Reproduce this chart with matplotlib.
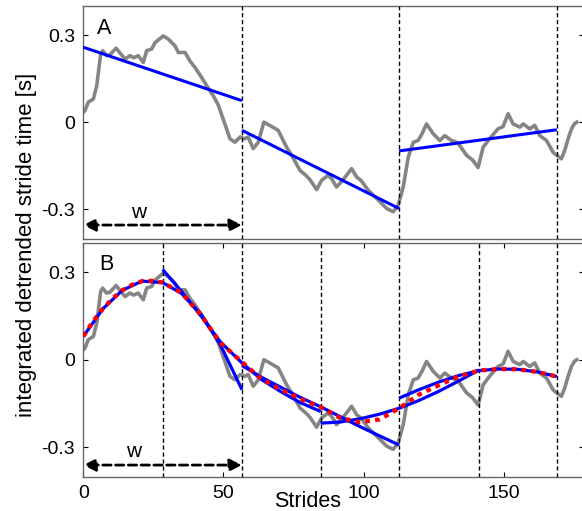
import numpy as np
import matplotlib
matplotlib.use("Agg")
import matplotlib.pyplot as plt

plt.rcParams['font.family'] = ['Liberation Sans', 'DejaVu Sans']

# integrated detrended stride time profile
stride_x = [0, 0.6, 1.8, 3.6, 4.8, 6.2, 6.9, 8.3, 9.5, 11.7, 13.1, 14.9, 16.6, 18.0,
            19.6, 21.4, 22.6, 24.4, 25.6, 28.5, 30.3, 32.7, 33.9, 36.3, 38.0, 39.8,
            42.2, 44.0, 46.3, 48.1, 50.5, 52.3, 54.1, 55.9, 57.6, 58.8, 60.6, 62.4,
            64.4, 66.5, 69.5, 72.5, 74.3, 77.3, 79.6, 81.0, 83.2, 85.0, 87.3, 88.6,
            90.3, 92.5, 95.7, 97.5, 99.0, 101.6, 105.2, 108.2, 110.5, 112.3, 114.1,
            115.9, 117.7, 119.4, 120.8, 122.4, 124.8, 127.2, 128.9, 131.3, 133.5,
            136.7, 138.8, 140.8, 142.6, 144.9, 147.9, 149.7, 151.5, 153.3, 155.7,
            156.9, 159.2, 161.0, 162.8, 165.2, 167.5, 168.8, 170.5, 171.7, 172.9,
            174.1, 175.2, 176.0]
stride_y = [0.034, 0.04, 0.069, 0.08, 0.126, 0.234, 0.246, 0.229, 0.232, 0.255, 0.238,
            0.217, 0.229, 0.222, 0.229, 0.206, 0.246, 0.252, 0.274, 0.297, 0.286,
            0.263, 0.24, 0.24, 0.211, 0.189, 0.154, 0.126, 0.092, 0.06, -0.006,
            -0.057, -0.069, -0.051, -0.057, -0.051, -0.091, -0.069, 0.0, -0.011,
            -0.028, -0.086, -0.114, -0.166, -0.185, -0.2, -0.232, -0.2, -0.183,
            -0.195, -0.223, -0.2, -0.16, -0.189, -0.2, -0.234, -0.268, -0.297,
            -0.308, -0.286, -0.223, -0.12, -0.069, -0.063, -0.04, -0.006, -0.04,
            -0.063, -0.046, -0.063, -0.07, -0.114, -0.13, -0.156, -0.086, -0.057,
            -0.023, -0.015, 0.029, -0.006, -0.017, -0.006, -0.023, -0.011, -0.046,
            -0.063, -0.103, -0.114, -0.126, -0.097, -0.057, -0.023, -0.005, 0.0]

# panel A: linear fits in non-overlapping windows
lin_x0 = [0, 56.6, 112.6]
lin_x1 = [56.6, 112.6, 168.9]
lin_y0 = [0.258, -0.028, -0.099]
lin_y1 = [0.074, -0.297, -0.026]
bounds_a = [56.6, 112.6, 168.9]

# panel B: quadratic fits in half-overlapping windows
fit_x = [
    [0, 7, 14, 21, 28.3, 35, 42, 49, 56.6],
    [28.3, 35, 42, 49, 56.6, 63.5, 70.5, 77.5, 84.7],
    [56.6, 63.5, 70.5, 77.5, 84.7, 91.7, 98.7, 105.7, 112.6],
    [84.7, 91.7, 98.7, 105.7, 112.6, 119.7, 126.7, 133.7, 141.2],
    [112.6, 119.7, 126.7, 133.7, 141.2, 148, 155, 162, 168.9],
]
fit_y = [
    [0.08, 0.175, 0.239, 0.27, 0.265, 0.228, 0.156, 0.049, -0.103],
    [0.31, 0.235, 0.15, 0.06, -0.011, -0.068, -0.11, -0.148, -0.178],
    [-0.02, -0.06, -0.095, -0.13, -0.162, -0.196, -0.23, -0.262, -0.293],
    [-0.218, -0.214, -0.203, -0.187, -0.167, -0.14, -0.109, -0.074, -0.035],
    [-0.132, -0.103, -0.077, -0.055, -0.037, -0.032, -0.033, -0.042, -0.058],
]
# blended trend
trend_x = [0, 3.5, 7, 10.5, 14, 17.5, 21, 24.5, 28.3, 35, 42, 49, 56.6, 63.5, 70.5,
           77.5, 84.7, 91.7, 98.7, 105.7, 112.6, 119.7, 126.7, 133.7, 141.2, 148,
           155, 162, 168.9]
trend_y = [0.08, 0.132, 0.175, 0.211, 0.239, 0.258, 0.27, 0.271, 0.265, 0.23, 0.153,
           0.057, -0.008, -0.066, -0.103, -0.135, -0.163, -0.2, -0.215, -0.205,
           -0.167, -0.12, -0.088, -0.058, -0.037, -0.032, -0.033, -0.042, -0.058]
bounds_b = [28.3, 56.6, 84.7, 112.6, 141.2, 168.9]

w_len = 56.6

fig = plt.figure(figsize=(5.82, 5.11), dpi=100)
ax_a = fig.add_axes([0.1431, 0.5323, 0.8605, 0.456])
ax_b = fig.add_axes([0.1431, 0.0671, 0.8605, 0.4568])

gray = '#858585'
for ax in (ax_a, ax_b):
    ax.plot(stride_x, stride_y, color=gray, lw=2.6, zorder=2)
    ax.set_xlim(0, 178.6)
    ax.set_ylim(-0.402, 0.4)
    ax.set_yticks([-0.3, 0, 0.3])
    ax.set_yticklabels(['-0.3', '0', '0.3'])
    ax.tick_params(direction='in', length=3.5, width=0.8, labelsize=14,
                   top=True, right=True, pad=6, colors='k')
    for sp in ax.spines.values():
        sp.set_color('#666666')
        sp.set_linewidth(1.0)

# panel A
for xb in bounds_a:
    ax_a.axvline(xb, color='k', lw=1.0, ls=(0, (3, 2)), zorder=3)
for i in range(len(lin_x0)):
    ax_a.plot([lin_x0[i], lin_x1[i]], [lin_y0[i], lin_y1[i]], color='#0000ff',
              lw=2.2, zorder=4, solid_capstyle='butt')
ax_a.set_xticks([])
ax_a.text(7.6, 0.323, 'A', fontsize=15.5, ha='center', va='center')
ax_a.annotate('', xy=(0, -0.354), xytext=(w_len, -0.354),
              arrowprops=dict(arrowstyle='<|-|>', color='k', lw=2.0, ls=(0, (3, 1.6)),
                              shrinkA=0, shrinkB=0, mutation_scale=18))
ax_a.text(19.9, -0.331, 'w', fontsize=15, ha='center', va='baseline')

# panel B
for xb in bounds_b:
    ax_b.axvline(xb, color='k', lw=1.0, ls=(0, (3, 2)), zorder=3)
for fx, fy in zip(fit_x, fit_y):
    ax_b.plot(fx, fy, color='#0000ff', lw=2.3, zorder=4, solid_capstyle='butt')
ax_b.plot(trend_x, trend_y, color='#ff0000', lw=3.1, ls=(0, (1.1, 1.2)), zorder=5)
ax_b.set_xticks([0, 50, 100, 150])
ax_b.set_xticklabels(['0', '50', '100', '150'])
ax_b.text(8.3, 0.328, 'B', fontsize=15.5, ha='center', va='center')
ax_b.annotate('', xy=(0, -0.362), xytext=(w_len, -0.362),
              arrowprops=dict(arrowstyle='<|-|>', color='k', lw=2.0, ls=(0, (3, 1.6)),
                              shrinkA=0, shrinkB=0, mutation_scale=18))
ax_b.text(18.1, -0.333, 'w', fontsize=15, ha='center', va='baseline')

fig.text(308 / 582, 1 - 501 / 511, 'Strides', fontsize=15.5, ha='center', va='center')
fig.text(27 / 582, 1 - 244.5 / 511, 'integrated detrended stride time [s]',
         fontsize=16, rotation=90, ha='center', va='center')

fig.savefig('out.png', dpi=100)
